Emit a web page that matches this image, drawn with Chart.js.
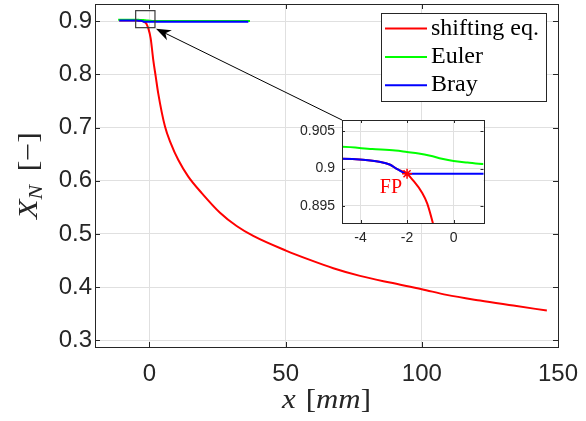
<!DOCTYPE html>
<html lang="en">
<head>
  <meta charset="UTF-8">
  <title>X_N over x</title>
  <script src="https://cdn.jsdelivr.net/npm/chart.js@4.4.2/dist/chart.umd.min.js"></script>
  <style>
    body { margin: 0; background: #fff; }
    #wrap { position: relative; width: 586px; height: 421px; }
    #main { position: absolute; left: 0; top: 0; }
    #inset { position: absolute; left: 290px; top: 108px; }
  </style>
</head>
<body>
  <div id="wrap">
    <canvas id="main" width="586" height="421"></canvas>
    <canvas id="inset" width="200" height="145"></canvas>
  </div>

  <script>
    // values
    const redX = [-11.1, -4.8, -3.9, -3.2, -2.75, -2.4, -2, -1.77, -1.34, -1.13, -0.89, -0.44, 0.44, 1.17, 1.4, 2.3, 3.2, 5.7, 7.8, 10.6, 14.25, 19.2, 25.9, 32.0, 38.1, 50.1, 58.9, 67.5, 77.3, 88.3, 100, 109.1, 121.4, 133.6, 145.9];
    const redY = [0.9014, 0.9013, 0.90116, 0.9009, 0.90054, 0.89987, 0.8993, 0.89852, 0.8967, 0.8953, 0.8927, 0.887, 0.868, 0.837, 0.827, 0.796, 0.765, 0.702, 0.671, 0.639, 0.608, 0.577, 0.540, 0.515, 0.4964, 0.4688, 0.4513, 0.4357, 0.4212, 0.4086, 0.3962, 0.3855, 0.3748, 0.3654, 0.356];

    const greenX = [-11.5, -4.8, -3.5, -2.5, -2, -1.5, -1, -0.5, 0, 0.6, 1.29, 5, 36.9];
    const greenY = [0.9030, 0.9029, 0.9026, 0.9024, 0.9022, 0.9020, 0.9017, 0.9013, 0.9010, 0.9008, 0.9006, 0.9005, 0.9005];

    const blueX = [-11.1, -4.8, -3.9, -3.2, -2.75, -2.4, -2, -1.5, 36.3];
    const blueY = [0.9014, 0.9013, 0.90116, 0.9009, 0.90054, 0.89987, 0.8993, 0.8993, 0.8993];

    const fpX = [-2];
    const fpY = [0.8993];

    const seriesNames = ['shifting eq.', 'Euler', 'Bray'];
    const xTicks = [0, 50, 100, 150];
    const yTicks = [0.3, 0.4, 0.5, 0.6, 0.7, 0.8, 0.9];
    const insetXTicks = [-4, -2, 0];
    const insetYTicks = [0.895, 0.9, 0.905];

    // zoomed region marked on the main axes (data units)
    const zoomBoxX = [-5.07, 2.02];
    const zoomBoxY = [0.888, 0.92];

    const axisColor = '#262626';
    const gridColor = '#e0e0e0';

    const pts = (xs, ys) => xs.map((x, i) => ({ x: x, y: ys[i] }));

    function lineSets() {
      const common = { borderWidth: 2, pointRadius: 0, fill: false, cubicInterpolationMode: 'monotone' };
      return [
        Object.assign({ label: seriesNames[0], data: pts(redX, redY), borderColor: '#ff0000', order: 3 }, common),
        Object.assign({ label: seriesNames[1], data: pts(greenX, greenY), borderColor: '#00ff00', order: 2 }, common),
        Object.assign({ label: seriesNames[2], data: pts(blueX, blueY), borderColor: '#0000ff', order: 1 }, common)
      ];
    }

    function noPad(s) {
      s.paddingLeft = 0; s.paddingRight = 0; s.paddingTop = 0; s.paddingBottom = 0;
    }

    // MATLAB style box with inward ticks on all four sides
    function boxPlugin(tickLen) {
      return {
        id: 'box',
        afterDraw(chart) {
          const { ctx, chartArea: a, scales } = chart;
          ctx.save();
          ctx.strokeStyle = axisColor;
          ctx.lineWidth = 1;
          ctx.beginPath();
          scales.x.ticks.forEach(t => {
            const px = Math.round(scales.x.getPixelForValue(t.value)) + 0.5;
            ctx.moveTo(px, a.bottom); ctx.lineTo(px, a.bottom - tickLen);
            ctx.moveTo(px, a.top); ctx.lineTo(px, a.top + tickLen);
          });
          scales.y.ticks.forEach(t => {
            const py = Math.round(scales.y.getPixelForValue(t.value)) + 0.5;
            ctx.moveTo(a.left, py); ctx.lineTo(a.left + tickLen, py);
            ctx.moveTo(a.right, py); ctx.lineTo(a.right - tickLen, py);
          });
          ctx.stroke();
          ctx.strokeRect(Math.round(a.left) + 0.5, Math.round(a.top) + 0.5,
                         Math.round(a.right - a.left), Math.round(a.bottom - a.top));
          ctx.restore();
        }
      };
    }

    // draws text pieces side by side, squeezed/stretched to a target width
    function drawPieces(ctx, pieces, cx, baseline, targetW) {
      let w = 0;
      pieces.forEach(p => {
        if (p.gap) { w += p.gap; return; }
        ctx.font = p.font;
        w += ctx.measureText(p.text).width;
      });
      const s = targetW / w;
      ctx.save();
      ctx.translate(cx - targetW / 2, baseline);
      ctx.scale(s, 1);
      ctx.textBaseline = 'alphabetic';
      ctx.textAlign = 'left';
      let x = 0;
      pieces.forEach(p => {
        if (p.gap) { x += p.gap; return; }
        ctx.font = p.font;
        ctx.fillText(p.text, x, p.dy || 0);
        x += ctx.measureText(p.text).width;
      });
      ctx.restore();
    }

    // ---------- inset ----------
    const insetCanvas = document.getElementById('inset');
    const insetSets = lineSets();
    insetSets.push({
      label: 'FP', data: pts(fpX, fpY), showLine: false, pointStyle: 'star',
      pointRadius: 5, borderColor: '#ff0000', borderWidth: 1.5, order: 0
    });

    const insetChart = new Chart(insetCanvas.getContext('2d'), {
      type: 'line',
      data: { datasets: insetSets },
      options: {
        responsive: false,
        animation: false,
        devicePixelRatio: 1,
        layout: { padding: { top: 12, right: 6, left: 0, bottom: 0 } },
        plugins: { legend: { display: false }, tooltip: { enabled: false } },
        scales: {
          x: {
            type: 'linear', min: -4.8, max: 1.29,
            afterBuildTicks: s => { s.ticks = insetXTicks.map(v => ({ value: v })); },
            afterFit: s => { s.height = 30; noPad(s); },
            grid: { color: gridColor, drawTicks: false },
            border: { display: false },
            ticks: { color: axisColor, font: { family: 'Liberation Sans', size: 14 }, padding: 7,
                     autoSkip: false, maxRotation: 0, callback: v => String(v) }
          },
          y: {
            type: 'linear', min: 0.8927, max: 0.9065,
            afterBuildTicks: s => { s.ticks = insetYTicks.map(v => ({ value: v })); },
            afterFit: s => { s.width = 52; noPad(s); },
            grid: { color: gridColor, drawTicks: false },
            border: { display: false },
            ticks: { color: axisColor, font: { family: 'Liberation Sans', size: 14 }, padding: 7,
                     autoSkip: false, callback: v => String(v) }
          }
        }
      },
      plugins: [
        {
          id: 'whiteArea',
          beforeDraw(chart) {
            const a = chart.chartArea;
            chart.ctx.save();
            chart.ctx.fillStyle = '#fff';
            chart.ctx.fillRect(a.left, a.top, a.right - a.left, a.bottom - a.top);
            chart.ctx.restore();
          }
        },
        boxPlugin(3),
        {
          id: 'fpLabel',
          afterDraw(chart) {
            const { ctx, scales } = chart;
            const px = scales.x.getPixelForValue(fpX[0]);
            const py = scales.y.getPixelForValue(fpY[0]);
            ctx.save();
            ctx.fillStyle = '#ff0000';
            ctx.font = '20px "Liberation Serif"';
            ctx.textAlign = 'right';
            ctx.textBaseline = 'alphabetic';
            ctx.fillText('FP', px - 5, py + 19);
            ctx.restore();
          }
        }
      ]
    });

    // ---------- main axes ----------
    const zoomMark = {
      id: 'zoomMark',
      afterDraw(chart) {
        const { ctx, scales } = chart;
        const l = scales.x.getPixelForValue(zoomBoxX[0]);
        const r = scales.x.getPixelForValue(zoomBoxX[1]);
        const t = scales.y.getPixelForValue(zoomBoxY[1]);
        const b = scales.y.getPixelForValue(zoomBoxY[0]);
        ctx.save();
        ctx.strokeStyle = '#3a3a3a';
        ctx.lineWidth = 1.2;
        ctx.strokeRect(l, t, r - l, b - t);

        // arrow from the inset corner to the marked box
        const ia = insetChart.chartArea;
        const sx = insetCanvas.offsetLeft + ia.left;
        const sy = insetCanvas.offsetTop + ia.top;
        const ex = r + 1, ey = b + 1;
        const len = Math.hypot(ex - sx, ey - sy);
        const ux = (ex - sx) / len, uy = (ey - sy) / len;
        const nx = -uy, ny = ux;
        ctx.strokeStyle = '#000';
        ctx.lineWidth = 1;
        ctx.beginPath();
        ctx.moveTo(sx, sy);
        ctx.lineTo(ex - ux * 10, ey - uy * 10);
        ctx.stroke();
        ctx.fillStyle = '#000';
        ctx.beginPath();
        ctx.moveTo(ex, ey);
        ctx.lineTo(ex - ux * 15 + nx * 5.5, ey - uy * 15 + ny * 5.5);
        ctx.lineTo(ex - ux * 10.5, ey - uy * 10.5);
        ctx.lineTo(ex - ux * 15 - nx * 5.5, ey - uy * 15 - ny * 5.5);
        ctx.closePath();
        ctx.fill();
        ctx.restore();
      }
    };

    const boxedLegend = {
      id: 'boxedLegend',
      afterDraw(chart) {
        const { ctx, chartArea: a } = chart;
        const w = 165, h = 88;
        const x0 = Math.round(a.right - 12 - w), y0 = Math.round(a.top + 9);
        ctx.save();
        ctx.fillStyle = '#fff';
        ctx.fillRect(x0, y0, w, h);
        ctx.strokeStyle = axisColor;
        ctx.lineWidth = 1;
        ctx.strokeRect(x0 + 0.5, y0 + 0.5, w, h);
        ctx.font = '24px "Liberation Serif"';
        ctx.textBaseline = 'alphabetic';
        chart.data.datasets.forEach((ds, i) => {
          const yy = y0 + 15.5 + i * 28.4;
          ctx.strokeStyle = ds.borderColor;
          ctx.lineWidth = 2;
          ctx.beginPath();
          ctx.moveTo(x0 + 4, yy);
          ctx.lineTo(x0 + 46, yy);
          ctx.stroke();
          ctx.fillStyle = '#000';
          ctx.fillText(ds.label, x0 + 50, yy + 6);
        });
        ctx.restore();
      }
    };

    const axisTitles = {
      id: 'axisTitles',
      afterDraw(chart) {
        const { ctx, chartArea: a } = chart;
        const it = 'italic 28px "Liberation Serif"';
        const up = '28px "Liberation Serif"';
        ctx.save();
        ctx.fillStyle = axisColor;
        drawPieces(ctx, [
          { text: 'x', font: it }, { gap: 9 }, { text: '[', font: up },
          { text: 'mm', font: it }, { text: ']', font: up }
        ], (a.left + a.right) / 2, 408, 89);

        ctx.translate(37, (a.top + a.bottom) / 2);
        ctx.rotate(-Math.PI / 2);
        drawPieces(ctx, [
          { text: 'X', font: it }, { text: 'N', font: 'italic 19px "Liberation Serif"', dy: 5 },
          { gap: 12 }, { text: '[', font: up }, { text: '\u2212', font: up }, { text: ']', font: up }
        ], 0, 0, 87);
        ctx.restore();
      }
    };

    new Chart(document.getElementById('main').getContext('2d'), {
      type: 'line',
      data: { datasets: lineSets() },
      options: {
        responsive: false,
        animation: false,
        devicePixelRatio: 1,
        layout: { padding: { top: 4, right: 28, left: 0, bottom: 0 } },
        plugins: { legend: { display: false }, tooltip: { enabled: false } },
        scales: {
          x: {
            type: 'linear', min: -20, max: 150,
            afterBuildTicks: s => { s.ticks = xTicks.map(v => ({ value: v })); },
            afterFit: s => { s.height = 74; noPad(s); },
            grid: { color: gridColor, drawTicks: false },
            border: { display: false },
            ticks: { color: axisColor, font: { family: 'Liberation Sans', size: 24 }, padding: 13,
                     autoSkip: false, maxRotation: 0, callback: v => String(v) }
          },
          y: {
            type: 'linear', min: 0.2875, max: 0.9325,
            afterBuildTicks: s => { s.ticks = yTicks.map(v => ({ value: v })); },
            afterFit: s => { s.width = 95; noPad(s); },
            grid: { color: gridColor, drawTicks: false },
            border: { display: false },
            ticks: { color: axisColor, font: { family: 'Liberation Sans', size: 24 }, padding: 3,
                     autoSkip: false, callback: v => v.toFixed(1) }
          }
        }
      },
      plugins: [boxPlugin(5), zoomMark, boxedLegend, axisTitles]
    });
  </script>
</body>
</html>
